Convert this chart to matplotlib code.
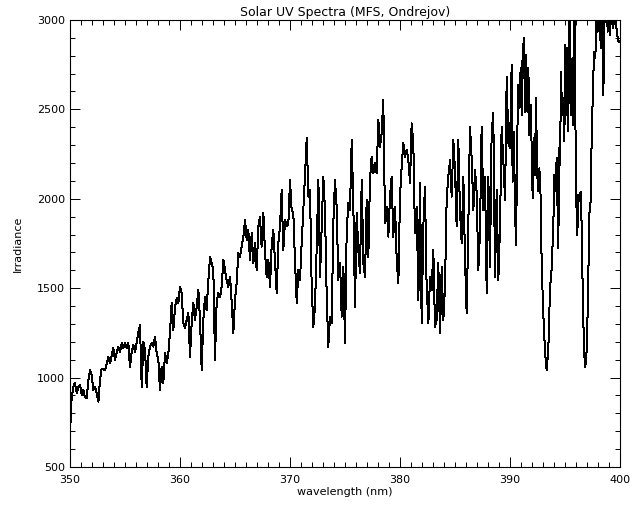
import matplotlib
matplotlib.use("Agg")
import matplotlib.pyplot as plt
from matplotlib.ticker import MultipleLocator

# wavelength (nm) and irradiance
wavelength = [
    350.00, 350.15, 350.30, 350.45, 350.61, 350.76, 350.91, 351.06, 351.21, 351.36,
    351.52, 351.67, 351.82, 351.97, 352.12, 352.27, 352.42, 352.58, 352.73, 352.88,
    353.03, 353.18, 353.33, 353.48, 353.64, 353.79, 353.94, 354.09, 354.24, 354.39,
    354.55, 354.70, 354.85, 355.00, 355.15, 355.30, 355.45, 355.61, 355.76, 355.91,
    356.06, 356.21, 356.36, 356.52, 356.67, 356.82, 356.97, 357.12,
    357.27, 357.42, 357.58, 357.73, 357.88, 358.03, 358.18, 358.33, 358.48, 358.64,
    358.79, 358.94, 359.09, 359.24, 359.39, 359.55, 359.70, 359.85, 360.00, 360.15,
    360.30, 360.45, 360.61, 360.76, 360.91, 361.06, 361.21, 361.36, 361.52, 361.67,
    361.82, 361.97, 362.12, 362.27, 362.42, 362.58, 362.73, 362.88, 363.03, 363.18,
    363.33, 363.48, 363.64, 363.79, 363.94, 364.09, 364.24, 364.39, 364.55, 364.70,
    364.85, 365.00, 365.15, 365.30,
    365.45, 365.61, 365.76, 365.91, 366.06, 366.21, 366.36, 366.52, 366.67, 366.82,
    366.97, 367.12, 367.27, 367.42, 367.58, 367.73, 367.88, 368.03, 368.18, 368.33,
    368.48, 368.64, 368.79, 368.94, 369.09, 369.24, 369.39, 369.55, 369.70, 369.85,
    370.00, 370.15, 370.30, 370.45, 370.61, 370.76, 370.91, 371.06, 371.21, 371.36,
    371.52, 371.67, 371.82, 371.97, 372.12, 372.27, 372.42, 372.58, 372.73, 372.88,
    373.03, 373.18, 373.33, 373.48,
    373.64, 373.79, 373.94, 374.09, 374.24, 374.39, 374.55, 374.70, 374.85, 375.00,
    375.15, 375.30, 375.45, 375.61, 375.76, 375.91, 376.06, 376.21, 376.36, 376.52,
    376.67, 376.82, 376.97, 377.12, 377.27, 377.42, 377.58, 377.73, 377.88, 378.03,
    378.18, 378.33, 378.48, 378.64, 378.79, 378.94, 379.09, 379.24, 379.39, 379.55,
    379.70, 379.85, 380.00, 380.15, 380.30, 380.45, 380.61, 380.76, 380.91, 381.06,
    381.21, 381.36, 381.52, 381.67,
    381.82, 381.97, 382.12, 382.27, 382.42, 382.58, 382.73, 382.88, 383.03, 383.18,
    383.33, 383.48, 383.64, 383.79, 383.94, 384.09, 384.24, 384.39, 384.55, 384.70,
    384.85, 385.00, 385.15, 385.30, 385.45, 385.61, 385.76, 385.91, 386.06, 386.21,
    386.36, 386.52, 386.67, 386.82, 386.97, 387.12, 387.27, 387.42, 387.58, 387.73,
    387.88, 388.03, 388.18, 388.33, 388.48, 388.64, 388.79, 388.94, 389.09, 389.24,
    389.39, 389.55, 389.70, 389.85,
    390.00, 390.15, 390.24, 390.36, 390.45, 390.55, 390.67, 390.76, 390.85, 390.97,
    391.06, 391.15, 391.27, 391.36, 391.45, 391.58, 391.67, 391.76, 391.88, 391.97,
    392.06, 392.18, 392.27, 392.36, 392.48, 392.58, 392.67, 392.79, 392.88, 393.03,
    393.18, 393.33, 393.48, 393.64, 393.79, 393.94, 394.03, 394.15, 394.24, 394.39,
    394.48,
    394.55, 394.64, 394.73, 394.85, 394.94, 395.03, 395.12, 395.21, 395.30, 395.39,
    395.48, 395.58, 395.67, 395.76, 395.85, 395.94, 396.03, 396.12, 396.21, 396.30,
    396.42, 396.52, 396.61, 396.73, 396.85, 396.97, 397.09, 397.21, 397.33, 397.42,
    397.52, 397.64, 397.76, 397.88, 397.97, 398.06, 398.18, 398.27, 398.36, 398.49,
    398.58, 398.67, 398.79, 398.88, 398.97, 399.09, 399.24, 399.39, 399.55, 399.70,
    399.85, 400.00,
]

irradiance = [
    690, 890, 947, 970, 914, 947, 960, 903, 930, 890,
    885, 987, 1042, 1015, 930, 947, 914, 865, 990, 1050,
    1045, 1040, 1075, 1115, 1080, 1125, 1165, 1100, 1137, 1170,
    1143, 1193, 1165, 1193, 1165, 1193, 1060, 1143, 1182, 1143,
    1193, 1250, 1294, 947, 1200, 1155, 947, 1115,
    1173, 1193, 1173, 1229, 1137, 1100, 930, 1061, 968, 1137,
    1080, 1137, 1250, 1418, 1266, 1396, 1445, 1418, 1508, 1473,
    1305, 1277, 1322, 1360, 1117, 1305, 1418, 1322, 1396, 1490,
    1322, 1042, 1322, 1452, 1378, 1546, 1676, 1640, 1602, 1100,
    1418, 1473, 1452, 1508, 1658, 1602, 1546, 1508, 1564, 1418,
    1250, 1434, 1527, 1696,
    1676, 1732, 1788, 1881, 1770, 1826, 1658, 1808, 1640, 1752,
    1602, 1845, 1900, 1732, 1920, 1696, 1564, 1658, 1508, 1732,
    1826, 1640, 1473, 1752, 1845, 2049, 1714, 1881, 1845, 1862,
    2105, 1937, 1920, 1658, 1418, 1602, 1546, 1752, 1937, 2124,
    2340, 2012, 2049, 1508, 1284, 1396, 1714, 2105, 1564, 1845,
    2124, 1937, 1473, 1173,
    1341, 1305, 1864, 2105, 1957, 1546, 1640, 1341, 1620, 1193,
    1808, 1976, 1937, 2328, 1957, 1396, 1920, 1714, 1585, 2105,
    1640, 1564, 1993, 1676, 2105, 2236, 2143, 2200, 2143, 2440,
    2292, 2367, 2552, 1864, 1957, 1788, 2012, 2124, 1788, 1957,
    1658, 1527, 2012, 2180, 2310, 2236, 2273, 2217, 2088, 2422,
    2310, 1808, 1957, 1434,
    2088, 1305, 1845, 2068, 1508, 1305, 1564, 1490, 1714, 1284,
    1322, 1640, 1250, 1620, 1322, 1508, 1993, 2124, 2217, 2012,
    2328, 2161, 1845, 2328, 1937, 1752, 2124, 1658, 1360, 1845,
    2404, 2217, 1937, 2161, 2031, 1602, 1808, 2404, 1937, 2124,
    1473, 2124, 1620, 2367, 2480, 1564, 2049, 1546, 1845, 2404,
    2217, 1993, 2683, 2310,
    2284, 2748, 2096, 2376, 1948, 1742, 2376, 2636, 2508, 2732,
    2468, 2823, 2897, 2487, 2804, 2487, 2732, 2357, 2524, 2284,
    2004, 2340, 2133, 2562, 2133, 2041, 2170, 2004, 1630, 1350,
    1150, 1040, 1150, 1501, 1613, 1853, 2133, 2041, 2228, 1725,
    2284,
    2189, 2711, 2468, 2562, 2320, 2860, 2468, 2843, 2376, 3100,
    2843, 2468, 2785, 2413, 3100, 2468, 1985, 1798, 2022, 1985,
    2041, 1837, 1482, 1145, 1060, 1150, 1444, 1910, 1985, 2320,
    2562, 2823, 2785, 3100, 2935, 3100, 2935, 2843, 3150, 2580,
    3100, 2990, 3100, 2935, 3100, 2916, 3100, 2955, 3100, 2935,
    2879, 2880,
]

plt.rcParams['font.family'] = ['DejaVu Sans']
plt.rcParams['font.size'] = 8

fig = plt.figure(figsize=(6.37, 5.07), dpi=100)
ax = fig.add_axes([0.1099, 0.0789, 0.8634, 0.8817])
ax.plot(wavelength, irradiance, color='black', linewidth=0.72, antialiased=False)

ax.set_xlim(350, 400)
ax.set_ylim(500, 3000)
ax.xaxis.set_major_locator(MultipleLocator(10))
ax.xaxis.set_minor_locator(MultipleLocator(1))
ax.yaxis.set_major_locator(MultipleLocator(500))
ax.yaxis.set_minor_locator(MultipleLocator(100))
ax.tick_params(which='both', direction='in', top=True, right=True,
               width=0.7, labelsize=8)
ax.tick_params(which='major', length=7)
ax.tick_params(which='minor', length=3.5)
ax.tick_params(axis='x', pad=6)
for s in ax.spines.values():
    s.set_linewidth(0.8)

ax.set_title('Solar UV Spectra (MFS, Ondrejov)', fontsize=9, pad=3)
ax.set_xlabel('wavelength (nm)', fontsize=8, labelpad=1)
ax.set_ylabel('Irradiance', fontsize=8, labelpad=10)

fig.savefig('out.png', dpi=100, facecolor='white')
